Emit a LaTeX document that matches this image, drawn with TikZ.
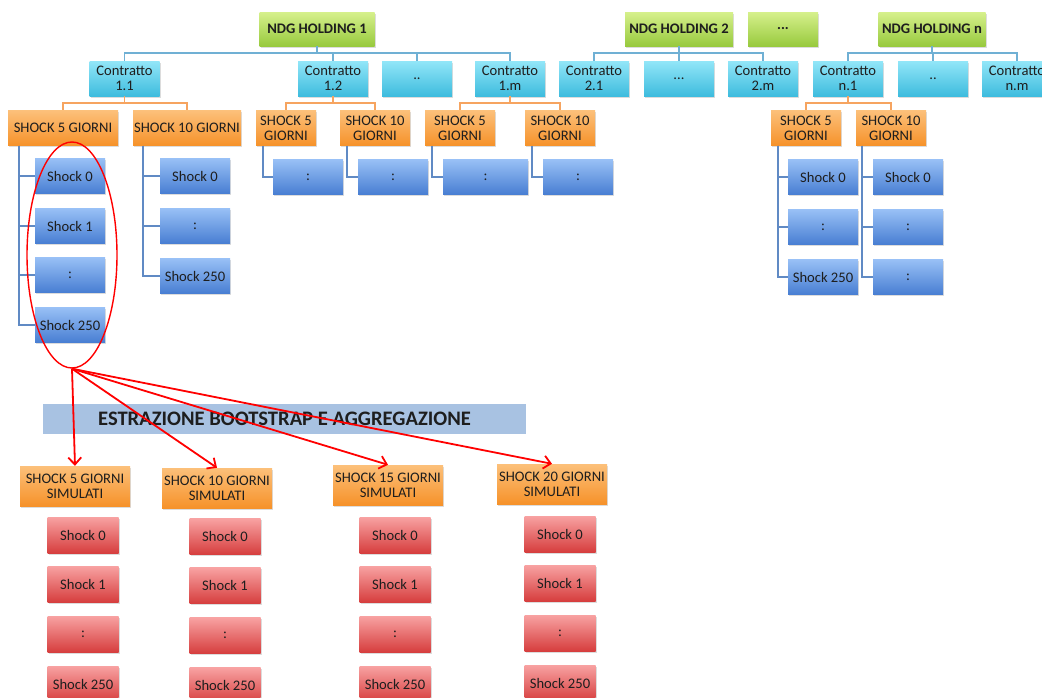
\documentclass[tikz,border=0pt]{standalone}
\usepackage{fontspec}
\setmainfont{Carlito}
\usetikzlibrary{arrows.meta,shadows,shapes.geometric}

\definecolor{holdtop}{RGB}{214,240,140}
\definecolor{holdbot}{RGB}{152,202,62}
\definecolor{contop}{RGB}{146,230,248}
\definecolor{conbot}{RGB}{62,188,222}
\definecolor{shtop}{RGB}{252,192,122}
\definecolor{shbot}{RGB}{246,146,42}
\definecolor{bltop}{RGB}{152,192,246}
\definecolor{blbot}{RGB}{72,126,210}
\definecolor{rdtop}{RGB}{248,162,162}
\definecolor{rdbot}{RGB}{214,62,62}
\definecolor{bandcol}{RGB}{168,194,226}
\definecolor{hlinecol}{RGB}{112,176,212}
\definecolor{olinecol}{RGB}{246,164,96}
\definecolor{slinecol}{RGB}{96,138,196}
\definecolor{txtcol}{RGB}{30,30,30}

\begin{document}
\begin{tikzpicture}[x=1pt,y=-1pt,
  box/.style={inner sep=0pt,align=center,text=txtcol,
    font=\fontsize{14.6}{15}\selectfont,
    drop shadow={opacity=0.28,shadow xshift=1pt,shadow yshift=-1.5pt}},
  holding/.style={box,top color=holdtop,bottom color=holdbot,
    minimum height=34pt,font=\fontsize{14.6}{15}\selectfont\bfseries},
  contract/.style={box,top color=contop,bottom color=conbot,
    minimum width=70pt,minimum height=35pt},
  shockhead/.style={box,top color=shtop,bottom color=shbot,
    minimum width=70pt,minimum height=35pt},
  shockbox/.style={box,top color=bltop,bottom color=blbot,
    minimum width=70pt,minimum height=35pt},
  simbox/.style={box,top color=rdtop,bottom color=rdbot,
    minimum width=71pt,minimum height=36pt},
  hline/.style={draw=hlinecol,line width=1.5pt},
  oline/.style={draw=olinecol,line width=1.5pt},
  sline/.style={draw=slinecol,line width=1.5pt},
  redarrow/.style={draw=red,line width=1.8pt,
    -{Straight Barb[length=7pt,width=13pt,line width=1.8pt]}}]

\useasboundingbox (0,0) rectangle (1042,697);

% holdings
\node [holding,minimum width=115pt] (h1) at (317,29) {NDG HOLDING 1};
\node [holding,minimum width=108pt] (h2) at (679,29) {NDG HOLDING 2};
\node [holding,minimum width=70pt] (hd) at (783,29) {...};
\node [holding,minimum width=107pt] (hn) at (932,29) {NDG HOLDING n};

% contracts
\node [contract] (c11) at (124.5,78.5) {Contratto\\1.1};
\node [contract] (c12) at (333,78.5) {Contratto\\1.2};
\node [contract] (c1d) at (417,78.5) {..};
\node [contract] (c1m) at (510,78.5) {Contratto\\1.m};
\node [contract] (c21) at (594,78.5) {Contratto\\2.1};
\node [contract] (c2d) at (679,78.5) {...};
\node [contract] (c2m) at (763,78.5) {Contratto\\2.m};
\node [contract] (cn1) at (848,78.5) {Contratto\\n.1};
\node [contract] (cnd) at (933,78.5) {..};
\node [contract] (cnm) at (1017,78.5) {Contratto\\n.m};

\foreach \c in {c11,c12,c1d,c1m}
  \path [hline] (h1.south) -- ++(0,7) -| (\c.north);
\foreach \c in {c21,c2d,c2m}
  \path [hline] (h2.south) -- ++(0,7) -| (\c.north);
\foreach \c in {cn1,cnd,cnm}
  \path [hline] (hn.south) -- ++(0,7) -| (\c.north);

% shock horizons
\node [shockhead,minimum width=110pt] (o11a) at (63,128) {SHOCK 5 GIORNI};
\node [shockhead,minimum width=108pt] (o11b) at (187,128) {SHOCK 10 GIORNI};
\node [shockhead,minimum width=60pt] (o12a) at (286,128) {SHOCK 5\\GIORNI};
\node [shockhead] (o12b) at (375,128) {SHOCK 10\\GIORNI};
\node [shockhead] (o1ma) at (460,128) {SHOCK 5\\GIORNI};
\node [shockhead] (o1mb) at (560,128) {SHOCK 10\\GIORNI};
\node [shockhead] (on1a) at (806,128) {SHOCK 5\\GIORNI};
\node [shockhead] (on1b) at (891,128) {SHOCK 10\\GIORNI};

\path [oline]
    (c11.south) -- ++(0,7) -| (o11a.north)
    (c11.south) -- ++(0,7) -| (o11b.north)
    (c12.south) -- ++(0,7) -| (o12a.north)
    (c12.south) -- ++(0,7) -| (o12b.north)
    (c1m.south) -- ++(0,7) -| (o1ma.north)
    (c1m.south) -- ++(0,7) -| (o1mb.north)
    (cn1.south) -- ++(0,7) -| (on1a.north)
    (cn1.south) -- ++(0,7) -| (on1b.north)
;

% shocks
\node [shockbox] (b11a0) at (70,176) {Shock 0};
\node [shockbox] (b11a1) at (70,226) {Shock 1};
\node [shockbox] (b11a2) at (70,275) {:};
\node [shockbox] (b11a3) at (70,325) {Shock 250};
\node [shockbox] (b11b0) at (195,176) {Shock 0};
\node [shockbox] (b11b1) at (195,226) {:};
\node [shockbox] (b11b2) at (195,276) {Shock 250};
\node [shockbox] (b12a0) at (308,177) {:};
\node [shockbox] (b12b0) at (393,177) {:};
\node [shockbox,minimum width=85pt] (b1ma0) at (485.5,177) {:};
\node [shockbox] (b1mb0) at (578,177) {:};
\node [shockbox] (bn1a0) at (823,177) {Shock 0};
\node [shockbox] (bn1a1) at (823,227) {:};
\node [shockbox] (bn1a2) at (823,277) {Shock 250};
\node [shockbox] (bn1b0) at (908,177) {Shock 0};
\node [shockbox] (bn1b1) at (908,227) {:};
\node [shockbox] (bn1b2) at (908,277) {:};

\foreach \b in {b11a0,b11a1,b11a2,b11a3}
  \path [sline] ([xshift=11pt]o11a.south west) |- (\b.west);
\foreach \b in {b11b0,b11b1,b11b2}
  \path [sline] ([xshift=10pt]o11b.south west) |- (\b.west);
\path [sline]
    ([xshift=7pt]o12a.south west) |- (b12a0.west)
    ([xshift=7pt]o12b.south west) |- (b12b0.west)
    ([xshift=7pt]o1ma.south west) |- (b1ma0.west)
    ([xshift=7pt]o1mb.south west) |- (b1mb0.west)
;
\foreach \b in {bn1a0,bn1a1,bn1a2}
  \path [sline] ([xshift=7pt]on1a.south west) |- (\b.west);
\foreach \b in {bn1b0,bn1b1,bn1b2}
  \path [sline] ([xshift=6pt]on1b.south west) |- (\b.west);

% selection
\node [ellipse,draw=red,line width=1.4pt,minimum width=90pt,minimum height=226pt,
    inner sep=0pt] (sel) at (72,255) {};

% bootstrap
\node [fill=bandcol,minimum width=483pt,minimum height=30pt,inner sep=0pt,
    text=txtcol,font=\fontsize{20.6}{21}\selectfont\bfseries] (band) at (284.5,419)
    {ESTRAZIONE BOOTSTRAP E AGGREGAZIONE};

\node [shockhead,minimum width=110pt,minimum height=40pt] (s5) at (75,486) {SHOCK 5 GIORNI\\SIMULATI};
\node [shockhead,minimum width=110pt,minimum height=40pt] (s10) at (217,488) {SHOCK 10 GIORNI\\SIMULATI};
\node [shockhead,minimum width=110pt,minimum height=40pt] (s15) at (388,485) {SHOCK 15 GIORNI\\SIMULATI};
\node [shockhead,minimum width=110pt,minimum height=40pt] (s20) at (552,484) {SHOCK 20 GIORNI\\SIMULATI};

\foreach \s in {s5,s10,s15,s20}
  \path [redarrow] (sel.south) -- (\s.north);

\foreach \n/\x/\d in {5/83/0,10/225/1.5,15/395/0,20/560/-1}{
  \node [simbox] (r\n a) at (\x,535+\d) {Shock 0};
  \node [simbox] (r\n b) at (\x,584+\d) {Shock 1};
  \node [simbox] (r\n c) at (\x,634+\d) {:};
  \node [simbox] (r\n d) at (\x,684+\d) {Shock 250};
}

\end{tikzpicture}
\end{document}
